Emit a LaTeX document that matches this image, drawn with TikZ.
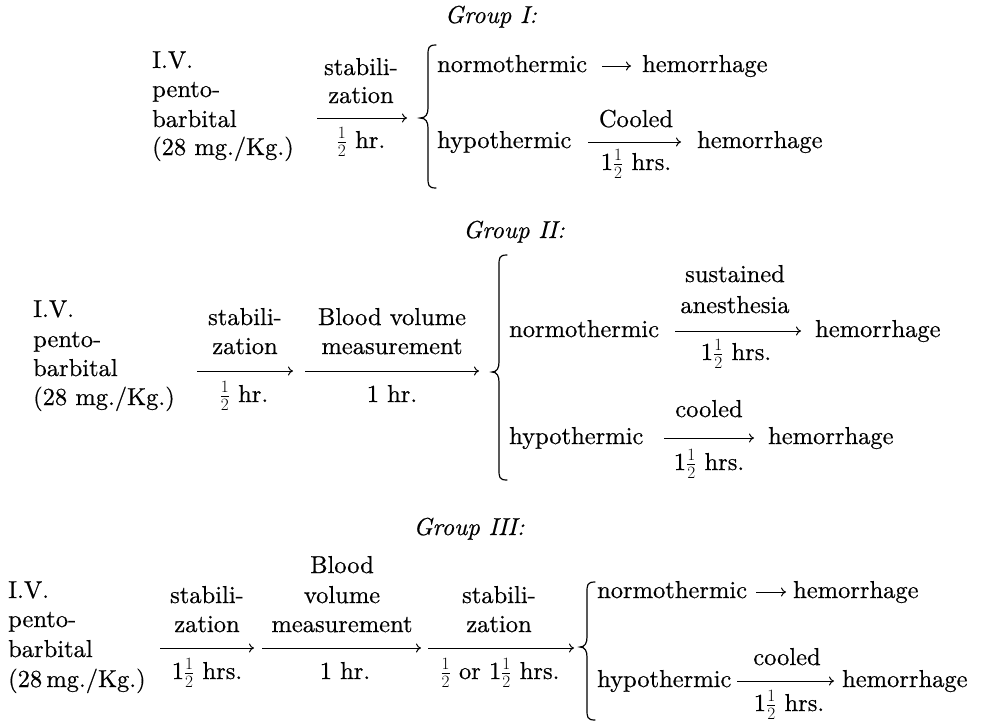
\documentclass[tikz,border=0pt]{standalone}
\usepackage{fontspec}
\setmainfont{lmroman10-regular.otf}[FakeBold=0.5, ItalicFont=lmroman10-italic.otf, BoldFont=lmroman10-bold.otf]
\usetikzlibrary{arrows.meta}
\tikzset{
  lbl/.style={anchor=base, inner sep=0pt},
  lft/.style={anchor=base west, inner sep=0pt},
  ttl/.style={anchor=base, inner sep=0pt, font=\fontsize{24.5}{29}\selectfont\itshape},
  arr/.style={line width=1pt, -{To[length=5pt,width=9pt]}},
  brc/.style={line width=1.2pt, line cap=round},
}
\newcommand{\hf}{\ensuremath{\frac{1}{2}}}
\begin{document}
\begin{tikzpicture}[x=1pt, y=-1pt, font=\fontsize{24.5}{29}\selectfont]
\useasboundingbox (0,0) rectangle (981,724);

% ---------------- Group I ----------------
\node[ttl] (t1) at (491,23) {Group I:};
\node[lft] (g1iv) at (152,68) {I.V.};
\node[lft] (g1pe) at (152,97) {pento-};
\node[lft] (g1ba) at (152,127) {barbital};
\node[lft] (g1mg) at (152,155) {(28 mg./Kg.)};
\node[lbl] (g1s1) at (361,75) {stabili-};
\node[lbl] (g1s2) at (361,103) {zation};
\node[lbl] (g1s3) at (361,148) {\hf{} hr.};
\coordinate (g1a0) at (317,118);
\coordinate (g1a1) at (407,118);
\draw[arr] (g1a0) -- (g1a1);
\draw[brc] (436,45) .. controls (428,45) and (428,48) .. (428,56) -- (428,108)
  .. controls (428,114) and (426,118) .. (420,118)
  .. controls (426,118) and (428,122) .. (428,128) -- (428,177)
  .. controls (428,185) and (428,188) .. (436,188);
\node[lft] (g1no) at (437,72) {normothermic};
\node[lft] (g1nh) at (642,72) {hemorrhage};
\coordinate (g1b0) at (602,66);
\coordinate (g1b1) at (631,66);
\draw[arr] (g1b0) -- (g1b1);
\node[lft] (g1hy) at (437,148) {hypothermic};
\node[lbl] (g1c1) at (636,127) {Cooled};
\node[lbl] (g1c2) at (636,170) {1\hf{} hrs.};
\coordinate (g1d0) at (588,142);
\coordinate (g1d1) at (681,142);
\draw[arr] (g1d0) -- (g1d1);
\node[lft] (g1hh) at (697,148) {hemorrhage};

% ---------------- Group II ----------------
\node[ttl] (t2) at (514,238) {Group II:};
\node[lft] (g2iv) at (33,317) {I.V.};
\node[lft] (g2pe) at (33,347) {pento-};
\node[lft] (g2ba) at (33,376) {barbital};
\node[lft] (g2mg) at (33,405) {(28 mg./Kg.)};
\node[lbl] (g2s1) at (245,325) {stabili-};
\node[lbl] (g2s2) at (245,354) {zation};
\node[lbl] (g2s3) at (244,402) {\hf{} hr.};
\coordinate (g2a0) at (197,371);
\coordinate (g2a1) at (293,371);
\draw[arr] (g2a0) -- (g2a1);
\node[lbl] (g2b1) at (392,325) {Blood volume};
\node[lbl] (g2b2) at (392,354) {measurement};
\node[lbl] (g2b3) at (392,402) {1 hr.};
\coordinate (g2c0) at (305,371);
\coordinate (g2c1) at (479,371);
\draw[arr] (g2c0) -- (g2c1);
\draw[brc] (507,255) .. controls (499,255) and (499,258) .. (499,266) -- (499,362)
  .. controls (499,368) and (497,372) .. (492,372)
  .. controls (497,372) and (499,376) .. (499,382) -- (499,469)
  .. controls (499,477) and (499,480) .. (507,480);
\node[lft] (g2no) at (509,337) {normothermic};
\node[lbl] (g2n1) at (735,282) {sustained};
\node[lbl] (g2n2) at (735,313) {anesthesia};
\node[lbl] (g2n3) at (736,360) {1\hf{} hrs.};
\coordinate (g2d0) at (675,331);
\coordinate (g2d1) at (801,331);
\draw[arr] (g2d0) -- (g2d1);
\node[lft] (g2nh) at (815,337) {hemorrhage};
\node[lft] (g2hy) at (509,444) {hypothermic};
\node[lbl] (g2h1) at (709,417) {cooled};
\node[lbl] (g2h2) at (709,470) {1\hf{} hrs.};
\coordinate (g2e0) at (664,438);
\coordinate (g2e1) at (754,438);
\draw[arr] (g2e0) -- (g2e1);
\node[lft] (g2hh) at (768,444) {hemorrhage};

% ---------------- Group III ----------------
\node[ttl] (t3) at (469,535) {Group III:};
\node[lft] (g3iv) at (8,598) {I.V.};
\node[lft] (g3pe) at (8,627) {pento-};
\node[lft] (g3ba) at (8,657) {barbital};
\node[lft] (g3mg) at (8,687) {(28\,mg./Kg.)};
\node[lbl] (g3s1) at (207,603) {stabili-};
\node[lbl] (g3s2) at (207,632) {zation};
\node[lbl] (g3s3) at (207,679) {1\hf{} hrs.};
\coordinate (g3a0) at (160,648);
\coordinate (g3a1) at (254,648);
\draw[arr] (g3a0) -- (g3a1);
\node[lbl] (g3b1) at (342,573) {Blood};
\node[lbl] (g3b2) at (342,603) {volume};
\node[lbl] (g3b3) at (342,632) {measurement};
\node[lbl] (g3b4) at (345,679) {1 hr.};
\coordinate (g3c0) at (262,648);
\coordinate (g3c1) at (421,648);
\draw[arr] (g3c0) -- (g3c1);
\node[lbl] (g3t1) at (499,603) {stabili-};
\node[lbl] (g3t2) at (499,632) {zation};
\node[lbl] (g3t3) at (500,679) {\hf{} or 1\hf{} hrs.};
\coordinate (g3d0) at (428,648);
\coordinate (g3d1) at (574,648);
\draw[arr] (g3d0) -- (g3d1);
\draw[brc] (595,582) .. controls (587,582) and (587,585) .. (587,593) -- (587,637)
  .. controls (587,643) and (585,647) .. (580,647)
  .. controls (585,647) and (587,651) .. (587,657) -- (587,709)
  .. controls (587,717) and (587,720) .. (595,720);
\node[lft] (g3no) at (597,598) {normothermic};
\coordinate (g3e0) at (756,592);
\coordinate (g3e1) at (786,592);
\draw[arr] (g3e0) -- (g3e1);
\node[lft] (g3nh) at (793,598) {hemorrhage};
\node[lft] (g3hy) at (597,687) {hypothermic};
\node[lbl] (g3h1) at (787,665) {cooled};
\node[lbl] (g3h2) at (789,711) {1\hf{} hrs.};
\coordinate (g3f0) at (737,681);
\coordinate (g3f1) at (834,681);
\draw[arr] (g3f0) -- (g3f1);
\node[lft] (g3hh) at (842,687) {hemorrhage};
\end{tikzpicture}
\end{document}
